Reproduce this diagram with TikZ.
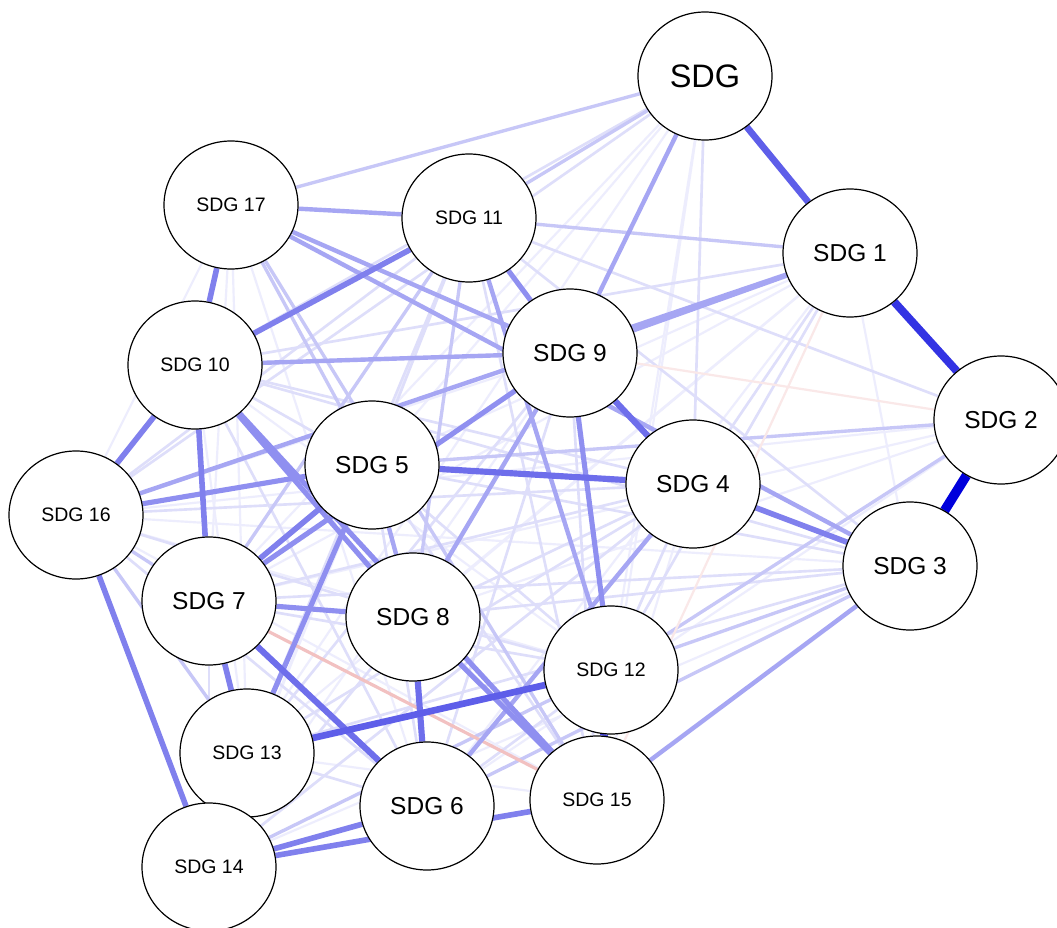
\documentclass[tikz,border=0pt]{standalone}
\usepackage{fontspec}
\setmainfont{Liberation Sans}
\usetikzlibrary{shapes.geometric,backgrounds}
\definecolor{eb}{RGB}{0,0,220}
\definecolor{er}{RGB}{215,60,60}
\tikzset{
  sdg/.style={ellipse, draw=black, line width=1.2pt, fill=white, minimum width=134pt, minimum height=128pt, inner sep=0pt},
  lbig/.style={font=\fontsize{32.5}{34}\selectfont},
  lmid/.style={font=\fontsize{24.5}{26}\selectfont},
  lsml/.style={font=\fontsize{19.5}{21}\selectfont},
  ed/.style={draw=eb!#1!white, line width=1.6pt+0.08pt*#1},
  rd/.style={draw=er!#1!white, line width=1.6pt+0.05pt*#1},
}
\begin{document}
\begin{tikzpicture}[x=1pt,y=-1pt]
\useasboundingbox (0,0) rectangle (1057,928);
% nodes
\node[sdg,lbig] (s0)  at (705,76)  {SDG};
\node[sdg,lmid] (s1)  at (850,253) {SDG 1};
\node[sdg,lmid] (s2)  at (1001,420){SDG 2};
\node[sdg,lmid] (s3)  at (910,566) {SDG 3};
\node[sdg,lmid] (s4)  at (693,484) {SDG 4};
\node[sdg,lmid] (s5)  at (372,465) {SDG 5};
\node[sdg,lmid] (s6)  at (427,806) {SDG 6};
\node[sdg,lmid] (s7)  at (209,601) {SDG 7};
\node[sdg,lmid] (s8)  at (413,617) {SDG 8};
\node[sdg,lmid] (s9)  at (570,353) {SDG 9};
\node[sdg,lsml] (s10) at (195,365) {SDG 10};
\node[sdg,lsml] (s11) at (469,218) {SDG 11};
\node[sdg,lsml] (s12) at (611,670) {SDG 12};
\node[sdg,lsml] (s13) at (247,753) {SDG 13};
\node[sdg,lsml] (s14) at (209,867) {SDG 14};
\node[sdg,lsml] (s15) at (597,800) {SDG 15};
\node[sdg,lsml] (s16) at (76,515)  {SDG 16};
\node[sdg,lsml] (s17) at (231,205) {SDG 17};
\begin{pgfonlayer}{background}
\fill[white] (0,0) rectangle (1057,928);
% faint
\foreach \a/\b in {s0/s5,s0/s7,s0/s12,s0/s15,s1/s3,s1/s5,s1/s7,s1/s8,s1/s13,s1/s6,s2/s16,s2/s7,s3/s14,s3/s16,s4/s15,s10/s12,s10/s13,s17/s6,s17/s13,s17/s7,s17/s16,s11/s14,s5/s14,s9/s14,s2/s8,s2/s6,s12/s16,s15/s16,s4/s14,s0/s13,s13/s15,s9/s16}
  \draw[ed=7] (\a) -- (\b);
% light
\foreach \a/\b in {s0/s4,s0/s16,s0/s10,s1/s4,s1/s12,s1/s10,s3/s7,s3/s13,s3/s5,s3/s8,s3/s10,s4/s7,s4/s8,s4/s16,s4/s13,s4/s10,s10/s5,s10/s6,s11/s16,s11/s13,s11/s5,s11/s15,s11/s3,s11/s2,s16/s8,s16/s6,s5/s12,s5/s15,s5/s6,s8/s12,s7/s12,s13/s6,s14/s8,s14/s4,s9/s6,s9/s13,s9/s15,s6/s12,s4/s12,s7/s14}
  \draw[ed=13] (\a) -- (\b);
% light-moderate
\foreach \a/\b in {s0/s17,s0/s11,s11/s1,s2/s5,s2/s12,s3/s12,s3/s6,s14/s12,s11/s7,s17/s15,s17/s5,s11/s8,s16/s13,s16/s7}
  \draw[ed=22] (\a) -- (\b);
% red
\draw[rd=12] (s1) -- (s15);
\draw[rd=12] (s9) -- (s2);
\draw[rd=32] (s7) -- (s15);
% moderate
\foreach \a/\b in {s0/s9,s1/s16,s17/s3,s3/s15,s9/s8,s11/s12,s6/s4,s17/s11,s17/s9,s10/s9,s1/s9,s5/s8}
  \draw[ed=35] (\a) -- (\b);
% moderate-strong
\foreach \a/\b in {s10/s8,s10/s15,s8/s15,s5/s13,s7/s8,s9/s7,s9/s12,s11/s9,s16/s5}
  \draw[ed=44] (\a) -- (\b);
% strong
\foreach \a/\b in {s16/s14,s16/s10,s17/s10,s10/s7,s11/s10,s7/s5,s7/s13,s14/s6,s14/s15,s4/s3}
  \draw[ed=50] (\a) -- (\b);
\foreach \a/\b in {s5/s4,s9/s4,s8/s6,s7/s6}
  \draw[ed=57] (\a) -- (\b);
\foreach \a/\b in {s0/s1,s12/s13}
  \draw[ed=63] (\a) -- (\b);
\draw[ed=75] (s12) -- (s15);
\draw[ed=80] (s1) -- (s2);
\draw[ed=100] (s2) -- (s3);
\end{pgfonlayer}
\end{tikzpicture}
\end{document}
